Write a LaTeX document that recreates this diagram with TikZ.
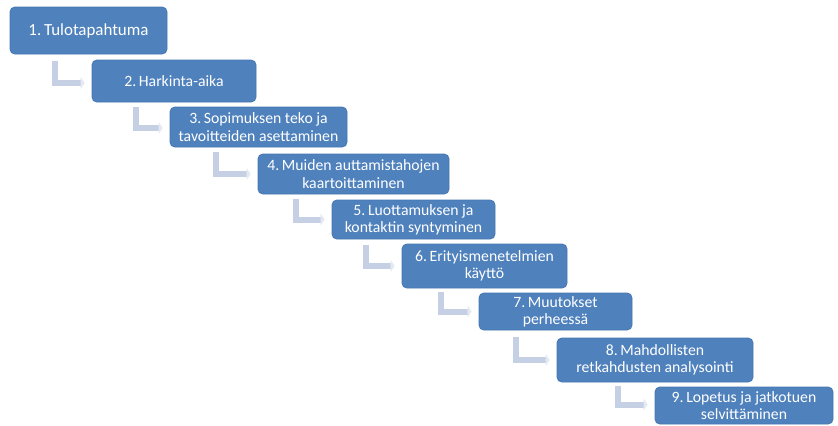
\documentclass[tikz,border=0pt]{standalone}
\usepackage{fontspec}
\setmainfont{Carlito}
\usetikzlibrary{calc,arrows.meta}
\definecolor{boxfill}{HTML}{4F81BD}
\definecolor{boxline}{HTML}{4676B0}
\definecolor{conn}{RGB}{198,208,228}
\definecolor{connlight}{RGB}{228,233,243}
\tikzset{
  stepbox/.style={rectangle, rounded corners=3.5pt, fill=boxfill, draw=boxline, line width=0.5pt,
    text=white, align=center, inner sep=0pt, font=\fontsize{11.8}{12.9}\selectfont},
  bigtext/.style={font=\fontsize{12.7}{14}\selectfont},
  bentarrow/.style={draw=conn, line width=4.5pt, line join=miter,
    -{Triangle[length=3pt,width=9pt,color=connlight,fill=connlight]}}
}
\begin{document}
\begin{tikzpicture}[x=0.75pt,y=-0.75pt]
\useasboundingbox (0,0) rectangle (838,425);
% boxes
\node[stepbox,bigtext,minimum width=157*0.75pt,minimum height=47*0.75pt] (b1) at (88.5,30.5) {1.\,Tulotapahtuma};
\node[stepbox,minimum width=164*0.75pt,minimum height=42*0.75pt] (b2) at (174,81) {2.\,Harkinta-aika};
\node[stepbox,minimum width=177*0.75pt,minimum height=40*0.75pt] (b3) at (258.5,127) {3.\,Sopimuksen teko ja\\tavoitteiden asettaminen};
\node[stepbox,minimum width=191*0.75pt,minimum height=40*0.75pt] (b4) at (353.5,174) {4.\,Muiden auttamistahojen\\kaartoittaminen};
\node[stepbox,minimum width=163*0.75pt,minimum height=39*0.75pt] (b5) at (413.5,219.5) {5.\,Luottamuksen ja\\kontaktin syntyminen};
\node[stepbox,minimum width=165*0.75pt,minimum height=44*0.75pt] (b6) at (484.5,266) {6.\,Erityismenetelmien\\käyttö};
\node[stepbox,minimum width=153*0.75pt,minimum height=37*0.75pt] (b7) at (555.5,311.5) {7.\,Muutokset\\perheessä};
\node[stepbox,minimum width=196*0.75pt,minimum height=44*0.75pt] (b8) at (655,360) {8.\,Mahdollisten\\retkahdusten analysointi};
\node[stepbox,minimum width=178*0.75pt,minimum height=37*0.75pt] (b9) at (744,405.5) {9.\,Lopetus ja jatkotuen\\selvittäminen};
% connector start points
\coordinate (c1) at (55,61);
\coordinate (c2) at (136,107);
\coordinate (c3) at (216,152);
\coordinate (c4) at (296,199);
\coordinate (c5) at (366,245);
\coordinate (c6) at (441,292);
\coordinate (c7) at (516,337);
\coordinate (c8) at (618,386);
% connectors
\draw[bentarrow] (c1) |- ($(b2.west)+(-7,2)$);
\draw[bentarrow] (c2) |- ($(b3.west)+(-7,1)$);
\draw[bentarrow] (c3) |- ($(b4.west)+(-7,0)$);
\draw[bentarrow] (c4) |- ($(b5.west)+(-7,0)$);
\draw[bentarrow] (c5) |- ($(b6.west)+(-7,0)$);
\draw[bentarrow] (c6) |- ($(b7.west)+(-7,0)$);
\draw[bentarrow] (c7) |- ($(b8.west)+(-7,0)$);
\draw[bentarrow] (c8) |- ($(b9.west)+(-7,-1)$);
\end{tikzpicture}
\end{document}
